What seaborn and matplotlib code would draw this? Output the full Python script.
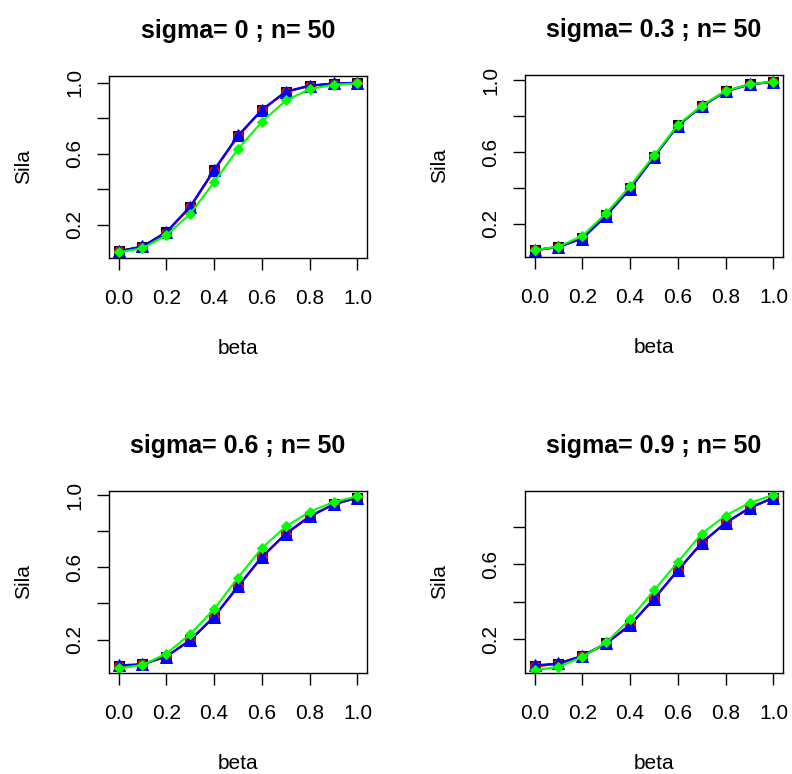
import numpy as np
import pandas as pd
import matplotlib
matplotlib.use("Agg")
import matplotlib.pyplot as plt
import seaborn as sns

sns.set_style("white")
plt.rcParams["font.family"] = ["Liberation Sans", "DejaVu Sans"]
plt.rcParams["text.color"] = "black"
plt.rcParams["axes.labelcolor"] = "black"
plt.rcParams["xtick.color"] = "black"
plt.rcParams["ytick.color"] = "black"

# ---------------------- data ----------------------
beta = [0.0, 0.1, 0.2, 0.3, 0.4, 0.5, 0.6, 0.7, 0.8, 0.9, 1.0]
sigmas = ["0", "0.3", "0.6", "0.9"]
n_obs = 50

# sigma = 0
s0_black = [0.051, 0.077, 0.158, 0.300, 0.507, 0.700, 0.846, 0.949, 0.983, 0.995, 1.000]
s0_red = [0.050, 0.076, 0.156, 0.298, 0.505, 0.698, 0.845, 0.948, 0.982, 0.995, 1.000]
s0_blue = [0.052, 0.078, 0.160, 0.303, 0.510, 0.703, 0.848, 0.950, 0.984, 0.996, 1.000]
s0_green = [0.045, 0.068, 0.140, 0.262, 0.440, 0.627, 0.780, 0.900, 0.964, 0.989, 0.996]

# sigma = 0.3
s3_black = [0.051, 0.070, 0.118, 0.247, 0.397, 0.574, 0.749, 0.857, 0.940, 0.978, 0.993]
s3_red = [0.050, 0.069, 0.117, 0.246, 0.396, 0.573, 0.748, 0.856, 0.939, 0.977, 0.993]
s3_blue = [0.052, 0.070, 0.116, 0.244, 0.394, 0.572, 0.748, 0.856, 0.940, 0.978, 0.993]
s3_green = [0.052, 0.072, 0.131, 0.258, 0.410, 0.581, 0.752, 0.860, 0.942, 0.979, 0.994]

# sigma = 0.6
s6_black = [0.052, 0.063, 0.106, 0.196, 0.326, 0.493, 0.657, 0.785, 0.881, 0.948, 0.985]
s6_red = [0.051, 0.062, 0.105, 0.195, 0.325, 0.492, 0.656, 0.784, 0.880, 0.947, 0.985]
s6_blue = [0.057, 0.064, 0.106, 0.197, 0.327, 0.494, 0.658, 0.786, 0.882, 0.949, 0.986]
s6_green = [0.041, 0.059, 0.122, 0.230, 0.368, 0.543, 0.706, 0.826, 0.907, 0.961, 0.993]

# sigma = 0.9
s9_black = [0.055, 0.069, 0.110, 0.177, 0.275, 0.415, 0.567, 0.714, 0.821, 0.900, 0.955]
s9_red = [0.054, 0.068, 0.109, 0.176, 0.274, 0.414, 0.566, 0.713, 0.820, 0.899, 0.954]
s9_blue = [0.060, 0.070, 0.111, 0.178, 0.276, 0.416, 0.568, 0.715, 0.822, 0.901, 0.955]
s9_green = [0.035, 0.051, 0.105, 0.182, 0.308, 0.460, 0.612, 0.764, 0.860, 0.928, 0.970]

panels = [
    (s0_black, s0_red, s0_blue, s0_green),
    (s3_black, s3_red, s3_blue, s3_green),
    (s6_black, s6_red, s6_blue, s6_green),
    (s9_black, s9_red, s9_blue, s9_green),
]

styles = [
    ("black", "s", 7.5),
    ("red", "o", 7),
    ("blue", "^", 8),
    ("#00FF00", "D", 5),
]

# axes boxes in pixels (left, top) on a 792x774 canvas
W, H = 792, 774
aw, ah = 258, 182
boxes = [(109, 76), (525, 75), (109, 491), (525, 491)]

fig = plt.figure(figsize=(W / 100, H / 100), dpi=100)

for i, series in enumerate(panels):
    left, top = boxes[i]
    ax = fig.add_axes([left / W, 1 - (top + ah) / H, aw / W, ah / H])
    for vals, (col, mk, ms) in zip(series, styles):
        df = pd.DataFrame({"beta": beta, "Sila": vals})
        sns.lineplot(data=df, x="beta", y="Sila", ax=ax, color=col, marker=mk,
                     markersize=ms, markeredgecolor=col, linewidth=1.5)
    # R-style limits: from first series, 4% expansion
    first = series[0]
    lo, hi = min(first), max(first)
    d = hi - lo
    ax.set_ylim(lo - 0.04 * d, hi + 0.04 * d)
    ax.set_xlim(-0.04, 1.04)
    ax.set_xticks([0.0, 0.2, 0.4, 0.6, 0.8, 1.0])
    ax.set_xticklabels(["0.0", "0.2", "0.4", "0.6", "0.8", "1.0"])
    yt = [t for t in [0.2, 0.4, 0.6, 0.8, 1.0] if t <= hi + 0.04 * d]
    ylab = [("%.1f" % t) if k % 2 == 0 else "" for k, t in enumerate(yt)]
    ax.set_yticks(yt)
    ax.set_yticklabels(ylab, rotation=90, va="center")
    ax.tick_params(direction="out", length=8.6, width=1, labelsize=15,
                   left=True, bottom=True)
    ax.tick_params(axis="x", pad=14)
    ax.tick_params(axis="y", pad=9)
    for sp in ax.spines.values():
        sp.set_visible(True)
        sp.set_color("black")
        sp.set_linewidth(1)
    ax.set_title("sigma= %s ; n= %d" % (sigmas[i], n_obs), fontsize=18,
                 fontweight="bold", pad=27.5)
    ax.set_xlabel("beta", fontsize=15, labelpad=22)
    ax.set_ylabel("Sila", fontsize=15, labelpad=23.5)
    ax.grid(False)

fig.savefig("out.png", dpi=100)
